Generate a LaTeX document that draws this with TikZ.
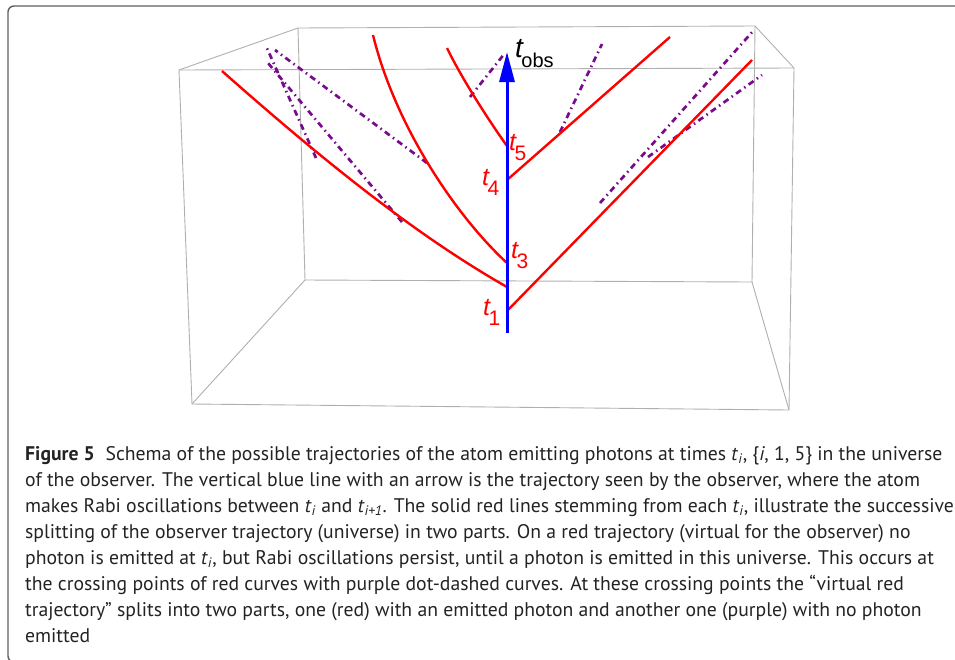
\documentclass[tikz,border=0pt]{standalone}
\usepackage{fontspec}
\setmainfont{PT Sans}
\newfontfamily\lblfont{Liberation Sans}
\usetikzlibrary{arrows.meta}
\definecolor{virtpurple}{RGB}{120,10,140}
\definecolor{boxgray}{RGB}{175,175,175}
\definecolor{framegray}{RGB}{95,95,95}
\definecolor{captext}{RGB}{35,35,35}
\newcommand\tsub[2][21]{{\itshape t}\kern-1.5pt\raisebox{-10pt}{\fontsize{#1}{#1}\selectfont #2}}
\newcommand\ti[1]{\textit{t}\textsubscript{\textit{#1}}}
\begin{document}
\begin{tikzpicture}[x=1pt,y=-1pt,
  boxline/.style={boxgray,line width=.9pt},
  traj/.style={red,line width=2.4pt},
  virt/.style={virtpurple,line width=2.7pt,dash pattern=on 6pt off 4pt on 1.5pt off 4pt},
  lbl/.style={red,font=\lblfont\fontsize{25}{25}\selectfont,inner sep=0pt,anchor=base west},
  capline/.style={captext,font=\fontsize{19.7}{26}\selectfont,inner sep=0pt,anchor=base west}]
\useasboundingbox (0,0) rectangle (955,659);
\draw[framegray,line width=1.4pt,rounded corners=6pt] (965,6)--(8,6)--(8,662)--(30,662);
% box
\coordinate (btl) at (298,28);\coordinate (btr) at (755,26);\coordinate (bbr) at (752,282);\coordinate (bbl) at (305,280);
\coordinate (ftl) at (179,70);\coordinate (ftr) at (794,68);\coordinate (fbr) at (789,410);\coordinate (fbl) at (192,404);
\draw[boxline] (btl)--(btr)--(bbr)--(bbl)--cycle;
\draw[boxline] (ftl)--(ftr)--(fbr)--(fbl)--cycle;
\draw[boxline] (ftl)--(btl) (ftr)--(btr) (fbr)--(bbr) (fbl)--(bbl);
% observer
\coordinate (t1) at (507,311);\coordinate (t2) at (507,287);\coordinate (t3) at (507,263);
\coordinate (t4) at (507,180);\coordinate (t5) at (507,146);
\coordinate (obsbot) at (507,333);\coordinate (obstop) at (507,52);
% virtual branches
\coordinate (xa) at (316,158);\coordinate (xb) at (402,222);\coordinate (xc) at (427,163);
\coordinate (xd) at (470,97);\coordinate (xe) at (560,132);\coordinate (xf) at (600,203);\coordinate (xg) at (648,157);
\draw[virt] (xa)--(266,46);\draw[virt] (xb)--(268,63);\draw[virt] (xc)--(275,50);
\draw[virt] (xd)--(505,53);\draw[virt] (xe)--(602,44);\draw[virt] (xf)--(754,30);\draw[virt] (xg)--(762,75);
% red trajectories
\draw[traj] (t2) .. controls (412,233) and (317,155) .. (222,71);
\draw[traj] (t3) .. controls (455,215) and (395,125) .. (373,35);
\draw[traj] (t5) .. controls (485,115) and (460,75) .. (447,48);
\draw[traj] (t4)--(670,37);
\draw[traj] (t1)--(752,60);
\draw[blue,line width=3pt,-{Triangle[length=30pt,width=15pt]}] (obsbot)--(obstop);
\node[lbl] (l1) at (483,315) {\tsub{1}};\node[lbl] (l3) at (511,258) {\tsub{3}};
\node[lbl] (l4) at (482,185) {\tsub{4}};\node[lbl] (l5) at (509,150) {\tsub{5}};
\node[lbl,black,font=\lblfont\fontsize{28}{28}\selectfont] (lobs) at (515,57) {\tsub[20]{obs}};
% caption
\node[capline] (c1) at (25,460) {\textbf{Figure 5}\hspace{.55em}Schema of the possible trajectories of the atom emitting photons at times \ti{i}, \{\textit{i}, 1, 5\} in the universe};
\node[capline] (c2) at (25,486) {of the observer. The vertical blue line with an arrow is the trajectory seen by the observer, where the atom};
\node[capline] (c3) at (25,512) {makes Rabi oscillations between \ti{i} and \ti{i+1}. The solid red lines stemming from each \ti{i}, illustrate the successive};
\node[capline] (c4) at (25,538) {splitting of the observer trajectory (universe) in two parts. On a red trajectory (virtual for the observer) no};
\node[capline] (c5) at (25,564) {photon is emitted at \ti{i}, but Rabi oscillations persist, until a photon is emitted in this universe. This occurs at};
\node[capline] (c6) at (25,590) {the crossing points of red curves with purple dot-dashed curves. At these crossing points the “virtual red};
\node[capline] (c7) at (25,616) {trajectory” splits into two parts, one (red) with an emitted photon and another one (purple) with no photon};
\node[capline] (c8) at (25,642) {emitted};
\end{tikzpicture}
\end{document}
